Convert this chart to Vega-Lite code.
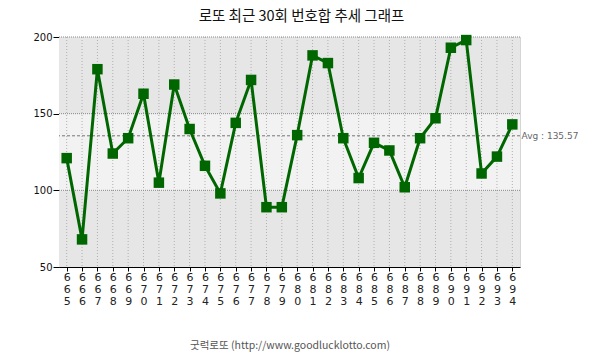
{
  "$schema": "https://vega.github.io/schema/vega-lite/v6.json",
  "width": 461,
  "height": 230,
  "autosize": {"type": "none"},
  "padding": {"left": 59, "top": 37, "right": 85, "bottom": 92},
  "background": "white",
  "title": {"text": "로또 최근 30회 번호합 추세 그래프", "font": "Noto Sans CJK KR", "fontSize": 14.5, "fontWeight": "normal", "color": "#111", "anchor": "middle", "dx": 12, "offset": 8},
  "config": {"view": {"stroke": "#aaa", "strokeDash": [1, 1]}},
  "datasets": {
    "draws": [
      {"draw": "665", "sum": 121}, {"draw": "666", "sum": 68}, {"draw": "667", "sum": 179},
      {"draw": "668", "sum": 124}, {"draw": "669", "sum": 134}, {"draw": "670", "sum": 163},
      {"draw": "671", "sum": 105}, {"draw": "672", "sum": 169}, {"draw": "673", "sum": 140},
      {"draw": "674", "sum": 116}, {"draw": "675", "sum": 98}, {"draw": "676", "sum": 144},
      {"draw": "677", "sum": 172}, {"draw": "678", "sum": 89}, {"draw": "679", "sum": 89},
      {"draw": "680", "sum": 136}, {"draw": "681", "sum": 188}, {"draw": "682", "sum": 183},
      {"draw": "683", "sum": 134}, {"draw": "684", "sum": 108}, {"draw": "685", "sum": 131},
      {"draw": "686", "sum": 126}, {"draw": "687", "sum": 102}, {"draw": "688", "sum": 134},
      {"draw": "689", "sum": 147}, {"draw": "690", "sum": 193}, {"draw": "691", "sum": 198},
      {"draw": "692", "sum": 111}, {"draw": "693", "sum": 122}, {"draw": "694", "sum": 143}
    ],
    "bands": [
      {"lo": 50, "hi": 100, "zone": "low"},
      {"lo": 100, "hi": 150, "zone": "mid"},
      {"lo": 150, "hi": 200, "zone": "high"}
    ],
    "hgrid": [{"v": 100}, {"v": 150}, {"v": 200}],
    "avg": [{"avg": 135.57}]
  },
  "resolve": {"axis": {"y": "independent"}},
  "layer": [
    {
      "data": {"name": "bands"},
      "mark": {"type": "rect"},
      "encoding": {
        "y": {"field": "lo", "type": "quantitative", "scale": {"domain": [50, 200], "nice": false, "zero": false}, "axis": null},
        "y2": {"field": "hi"},
        "color": {"field": "zone", "type": "nominal", "scale": {"domain": ["low", "mid", "high"], "range": ["#e6e6e6", "#f2f2f2", "#e6e6e6"]}, "legend": null}
      }
    },
    {
      "data": {"name": "draws"},
      "mark": {"type": "rule", "color": "#b0b0b0", "strokeDash": [1, 2], "strokeWidth": 1},
      "encoding": {
        "x": {"field": "draw", "type": "ordinal", "scale": {"type": "point", "padding": 0.5}, "axis": {"labelAngle": 0, "labelExpr": "split(datum.label, '')", "labelLineHeight": 12, "labelFont": "DejaVu Sans", "labelFontSize": 11, "labelColor": "#222", "labelPadding": 0, "tickSize": 4, "tickColor": "#000", "domainColor": "#000", "grid": false, "title": "굿럭로또 (http://www.goodlucklotto.com)", "titleFont": "Noto Sans CJK KR", "titleFontSize": 10.5, "titleFontWeight": "normal", "titleColor": "#555", "titlePadding": 34}}
      }
    },
    {
      "data": {"name": "hgrid"},
      "mark": {"type": "rule", "color": "#888888", "strokeDash": [1, 1], "strokeWidth": 1},
      "encoding": {
        "y": {"field": "v", "type": "quantitative", "axis": null}
      }
    },
    {
      "data": {"name": "avg"},
      "mark": {"type": "rule", "color": "#777777", "strokeDash": [3, 2], "strokeWidth": 1},
      "encoding": {
        "y": {"field": "avg", "type": "quantitative", "axis": {"orient": "right", "values": [135.57], "labelExpr": "'Avg : ' + format(datum.value, '.2f')", "ticks": false, "domain": false, "grid": false, "labelPadding": 1, "labelColor": "#666", "labelFont": "DejaVu Sans", "labelFontSize": 9, "title": null}}
      }
    },
    {
      "data": {"name": "draws"},
      "mark": {"type": "line", "color": "#006600", "strokeWidth": 3},
      "encoding": {
        "x": {"field": "draw", "type": "ordinal"},
        "y": {"field": "sum", "type": "quantitative", "axis": {"values": [50, 100, 150, 200], "grid": false, "tickSize": 6, "tickColor": "#000", "domainColor": "#000", "labelFont": "DejaVu Sans", "labelFontSize": 10, "labelColor": "#111", "labelPadding": 1, "title": null}}
      }
    },
    {
      "data": {"name": "draws"},
      "mark": {"type": "point", "shape": "square", "filled": true, "color": "#006600", "opacity": 1, "size": 110},
      "encoding": {
        "x": {"field": "draw", "type": "ordinal"},
        "y": {"field": "sum", "type": "quantitative", "axis": null}
      }
    }
  ]
}
